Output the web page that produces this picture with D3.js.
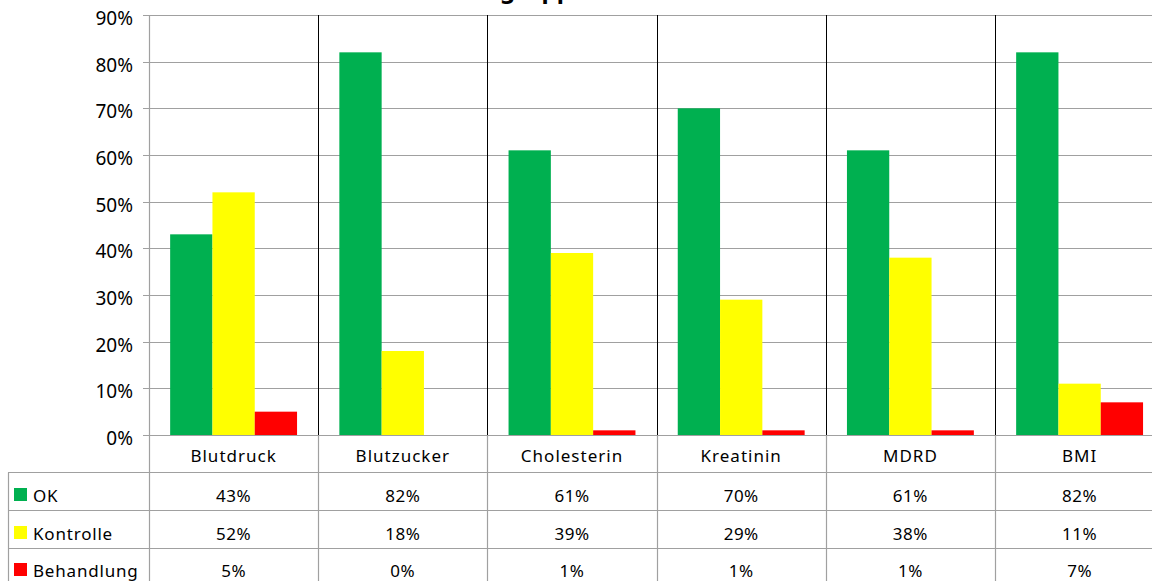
<!DOCTYPE html>
<html><head><meta charset="utf-8">
<script src="https://cdn.jsdelivr.net/npm/d3@7"></script>
<style>
html,body{margin:0;padding:0;background:#fff;overflow:hidden;}
svg{display:block;font-family:"Noto Sans",sans-serif;}
</style></head>
<body>
<svg id="c" width="1152" height="581"></svg>
<script>
const title = "Risikogruppe";
const categories = ["Blutdruck","Blutzucker","Cholesterin","Kreatinin","MDRD","BMI"];
const seriesNames = ["OK","Kontrolle","Behandlung"];
const okValues = [43,82,61,70,61,82];
const kontrolleValues = [52,18,39,29,38,11];
const behandlungValues = [5,0,1,1,1,7];
const yTicks = [0,10,20,30,40,50,60,70,80,90];
const colors = ["#00B050","#FFFF00","#FF0000"];

const seriesValues = [okValues, kontrolleValues, behandlungValues];
const svg = d3.select("#c");
const W = 1152, H = 581;
const x0 = 149, catW = 169.2;
const yTop = 15, yBot = 435;
const rowLines = [472.5, 510.5, 548.5, 586];
const rowBaselines = [502, 540, 577];
const tableLeft = 8;

const x = d3.scaleBand().domain(categories).range([x0, x0 + catW*categories.length]).paddingInner(0).paddingOuter(0);
const xs = d3.scaleBand().domain(seriesNames).range([0, x.bandwidth()]).paddingInner(0).paddingOuter(0.5);
const y = d3.scaleLinear().domain([0, 90]).range([yBot, yTop]);

const grid = "#a0a0a0";
const fs = 17;

// horizontal gridlines + ticks
svg.append("g").selectAll("line").data(yTicks).join("line")
  .attr("x1", x0-6).attr("x2", W).attr("y1", d=>Math.round(y(d))+0.5).attr("y2", d=>Math.round(y(d))+0.5)
  .attr("stroke", grid).attr("stroke-width", 1.2);

// y tick labels
svg.append("g").selectAll("text").data(yTicks).join("text")
  .attr("x", 133).attr("y", d=>y(d)+10).attr("text-anchor","end")
  .attr("font-size", 19).text(d=>d+"%");

// bars
categories.forEach((c, ci) => {
  seriesNames.forEach((s, si) => {
    const v = seriesValues[si][ci];
    if (v <= 0) return;
    svg.append("rect")
      .attr("x", x(c) + xs(s)).attr("width", xs.bandwidth())
      .attr("y", y(v)).attr("height", y(0) - y(v))
      .attr("fill", colors[si]);
  });
});

// category divider lines (dark in plot, gray in table)
const bounds = categories.map(c => x(c) + x.bandwidth()).slice(0, -1);
svg.append("g").selectAll("line").data(bounds).join("line")
  .attr("x1", d=>Math.round(d)+0.5).attr("x2", d=>Math.round(d)+0.5).attr("y1", yTop).attr("y2", yBot)
  .attr("stroke", "#000").attr("stroke-width", 1);
svg.append("g").selectAll("line").data(bounds).join("line")
  .attr("x1", d=>Math.round(d)+0.5).attr("x2", d=>Math.round(d)+0.5).attr("y1", yBot).attr("y2", H)
  .attr("stroke", grid).attr("stroke-width", 1.2);

// y axis line
svg.append("line").attr("x1", x0+0.5).attr("x2", x0+0.5).attr("y1", yTop).attr("y2", H)
  .attr("stroke", grid).attr("stroke-width", 1.2);

// table horizontal lines
svg.append("g").selectAll("line").data(rowLines).join("line")
  .attr("x1", tableLeft).attr("x2", W).attr("y1", d=>d).attr("y2", d=>d)
  .attr("stroke", grid).attr("stroke-width", 1.2);
svg.append("line").attr("x1", tableLeft+0.5).attr("x2", tableLeft+0.5).attr("y1", rowLines[0]).attr("y2", H)
  .attr("stroke", grid).attr("stroke-width", 1.2);

// category labels
svg.append("g").selectAll("text").data(categories).join("text")
  .attr("x", d=>x(d)+x.bandwidth()/2).attr("y", 462).attr("text-anchor","middle")
  .attr("font-size", fs).attr("letter-spacing", 1).text(d=>d);

// legend column
seriesNames.forEach((s, si) => {
  svg.append("rect").attr("x", 14).attr("y", rowBaselines[si]-14).attr("width", 13).attr("height", 13).attr("fill", colors[si]);
  svg.append("text").attr("x", 33).attr("y", rowBaselines[si]).attr("font-size", fs).attr("letter-spacing", 0.8).text(s);
  svg.append("g").selectAll("text").data(categories).join("text")
    .attr("x", d=>x(d)+x.bandwidth()/2).attr("y", rowBaselines[si]).attr("text-anchor","middle")
    .attr("font-size", fs).attr("letter-spacing", 0.5).text((d, ci)=>seriesValues[si][ci]+"%");
});

// title (mostly above the visible area, as in the reference)
const t = svg.append("text").attr("y", -2.5).attr("font-size", 24).attr("font-weight", "bold").text(title);
const gi = title.indexOf("g");
const off = t.node().getSubStringLength(0, gi);
t.attr("x", 500 - off);
</script>
</body></html>
